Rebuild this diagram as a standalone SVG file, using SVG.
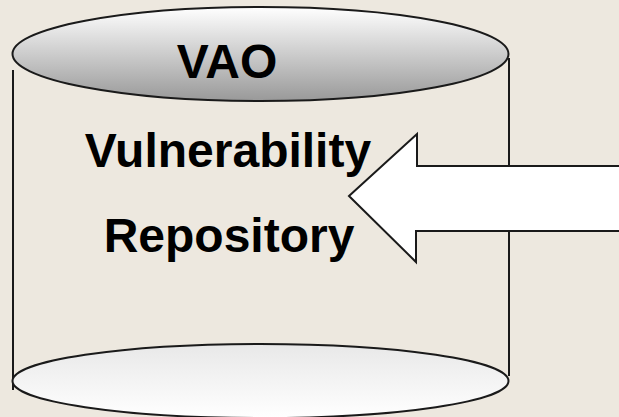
<svg xmlns="http://www.w3.org/2000/svg" width="619" height="417" viewBox="0 0 619 417">
<style>
.edge{fill:none;stroke:#1a1a1a;stroke-width:2}
.lbl{font-family:"Liberation Sans",Arial,sans-serif;font-weight:bold;font-size:48px;fill:#000;text-anchor:middle}
</style>
<defs>
<linearGradient id="gTop" x1="0" y1="0" x2="0" y2="1">
<stop offset="0" stop-color="#ffffff"/>
<stop offset="1" stop-color="#999999"/>
</linearGradient>
<linearGradient id="gBot" x1="0" y1="0" x2="0" y2="1">
<stop offset="0" stop-color="#e8e8e8"/>
<stop offset="1" stop-color="#ffffff"/>
</linearGradient>
</defs>
<rect width="619" height="417" fill="#EDE8DF"/>
<g id="repository">
<line class="edge" x1="13" y1="70" x2="13" y2="390"/>
<line class="edge" x1="509" y1="58" x2="509" y2="376"/>
<ellipse cx="260.5" cy="381" rx="248" ry="37" fill="url(#gBot)" stroke="#1a1a1a" stroke-width="2"/>
<ellipse cx="260.5" cy="54" rx="248" ry="47" fill="url(#gTop)" stroke="#1a1a1a" stroke-width="2"/>
<text class="lbl" x="227" y="78">VAO</text>
<text class="lbl" x="228" y="167">Vulnerability</text>
<text class="lbl" x="229" y="252">Repository</text>
</g>
<g id="connectors">
<polygon points="349,196 417,134 417,166 625,166 625,231 416,231 416,262" fill="#ffffff" stroke="#1a1a1a" stroke-width="2" stroke-linejoin="miter"/>
</g>
</svg>
